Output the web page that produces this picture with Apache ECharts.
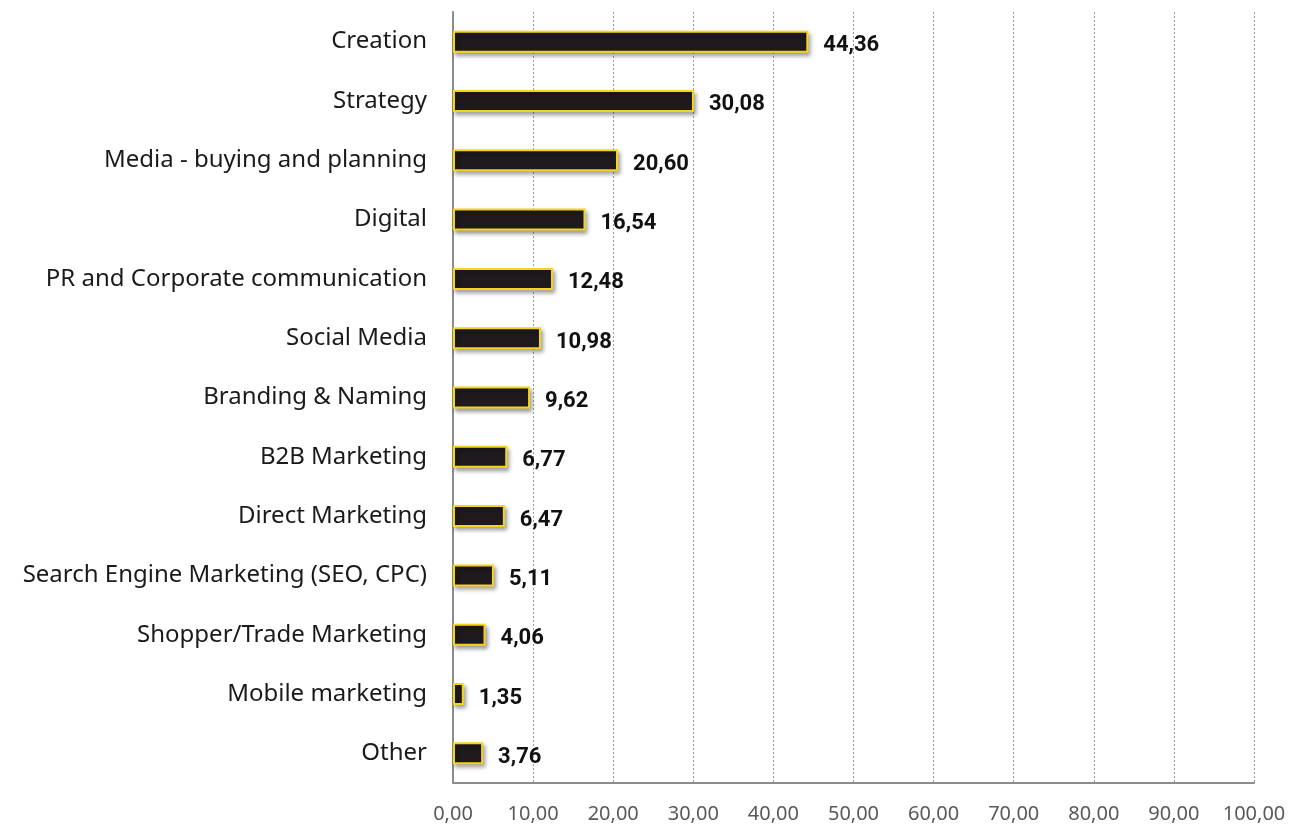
<!DOCTYPE html>
<html>
<head>
<meta charset="utf-8">
<script src="https://cdn.jsdelivr.net/npm/echarts@6/dist/echarts.min.js"></script>
<style>
  html, body { margin: 0; padding: 0; background: #ffffff; }
  #chart { width: 1289px; height: 826px; }
</style>
</head>
<body>
<div id="chart"></div>
<script>
// Service categories (top to bottom) and their shares
const categories = [
  'Creation',
  'Strategy',
  'Media - buying and planning',
  'Digital',
  'PR and Corporate communication',
  'Social Media',
  'Branding & Naming',
  'B2B Marketing',
  'Direct Marketing',
  'Search Engine Marketing (SEO, CPC)',
  'Shopper/Trade Marketing',
  'Mobile marketing',
  'Other'
];
const values = [44.36, 30.08, 20.60, 16.54, 12.48, 10.98, 9.62, 6.77, 6.47, 5.11, 4.06, 1.35, 3.76];
const axisMin = 0;
const axisMax = 100;
const axisStep = 10;

const fmt = v => Number(v).toFixed(2).replace('.', ',');

const chart = echarts.init(document.getElementById('chart'), null, { renderer: 'canvas' });
chart.setOption({
  animation: false,
  backgroundColor: '#ffffff',
  grid: { left: 453, right: 35, top: 12, bottom: 43, containLabel: false },
  xAxis: {
    type: 'value',
    min: axisMin,
    max: axisMax,
    interval: axisStep,
    axisLine: { show: true, lineStyle: { color: '#8c8c8c', width: 2 } },
    axisTick: { show: false },
    axisLabel: {
      formatter: fmt,
      color: '#595959',
      fontFamily: '"Noto Sans", "Open Sans", sans-serif',
      fontSize: 20,
      margin: 21
    },
    splitLine: { show: true, lineStyle: { color: '#9a9a9a', type: [2, 2], width: 1 } }
  },
  yAxis: {
    type: 'category',
    data: categories,
    inverse: true,
    axisLine: { show: true, lineStyle: { color: '#8c8c8c', width: 2 } },
    axisTick: { show: false },
    axisLabel: {
      color: '#1a1a1a',
      fontFamily: '"Noto Sans", "Open Sans", sans-serif',
      fontSize: 24,
      margin: 26
    },
    splitLine: { show: false }
  },
  series: [{
    type: 'bar',
    data: values,
    barWidth: 22,
    itemStyle: {
      color: '#1e1a1d',
      borderColor: '#f5d41a',
      borderWidth: 2,
      shadowColor: 'rgba(0,0,0,0.35)',
      shadowBlur: 4,
      shadowOffsetX: 2,
      shadowOffsetY: 3
    },
    label: {
      show: true,
      position: 'right',
      distance: 15,
      offset: [0, 4],
      formatter: p => fmt(p.value),
      color: '#111111',
      fontFamily: '"Liberation Sans Narrow", Roboto, sans-serif',
      fontWeight: 'bold',
      fontSize: 22
    }
  }]
});
</script>
</body>
</html>
